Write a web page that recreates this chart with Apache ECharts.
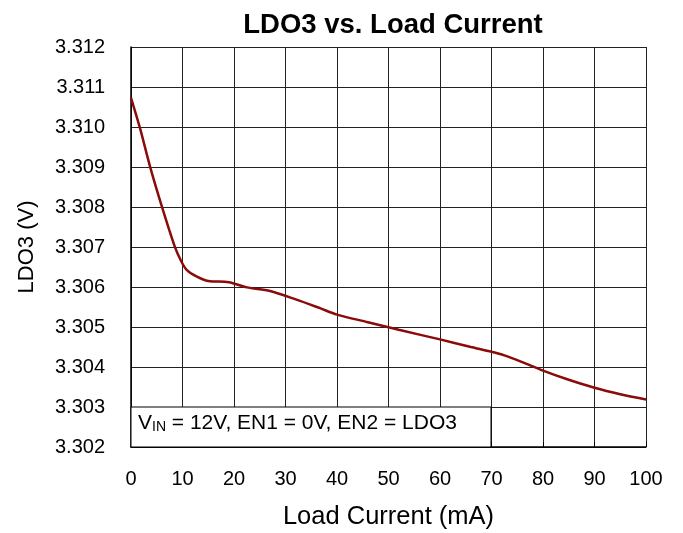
<!DOCTYPE html>
<html>
<head>
<meta charset="utf-8">
<script src="https://cdn.jsdelivr.net/npm/echarts@6/dist/echarts.min.js"></script>
<style>
  html, body { margin: 0; padding: 0; background: #fff; }
  #chart { width: 683px; height: 533px; }
</style>
</head>
<body>
<div id="chart"></div>
<script>
// load current (mA) and LDO3 output (V)
const loadCurrent = [0, 1.75, 3.7, 6, 8.5, 9.8, 10.8, 12.8, 15, 19, 22.5, 27, 32, 36.7, 40, 46, 52, 60, 66, 70, 72.5, 76, 80, 85, 90, 95, 100];
const ldo3 = [3.31073, 3.30997, 3.30901, 3.30801, 3.30701, 3.30663, 3.30643, 3.30626, 3.30615, 3.30612, 3.30599, 3.30590, 3.30569, 3.30547, 3.30531, 3.30512, 3.30493, 3.30469, 3.30450, 3.30438, 3.30429, 3.30412, 3.30391, 3.30368, 3.30348, 3.30332, 3.30319];

const chart = echarts.init(document.getElementById('chart'))
const font = '"Liberation Sans", Arial, sans-serif'

chart.setOption({
  animation: false,
  title: {
    text: 'LDO3 vs. Load Current',
    left: 388,
    textAlign: 'center',
    top: 6,
    textStyle: { fontFamily: font, fontSize: 27.5, fontWeight: 'bold', color: '#000' }
  },
  grid: { left: 131, right: 37, top: 47, bottom: 86, containLabel: false, outerBoundsMode: 'none' },
  xAxis: {
    type: 'value',
    min: 0, max: 100, interval: 10,
    name: 'Load Current (mA)',
    nameLocation: 'middle',
    nameGap: 57,
    nameTextStyle: { fontFamily: font, fontSize: 25.5, color: '#000' },
    axisLine: { show: true, onZero: false, lineStyle: { color: '#000', width: 1.5 } },
    axisTick: { show: true, inside: true, length: 5, lineStyle: { color: '#000' } },
    axisLabel: { fontFamily: font, fontSize: 20, color: '#000', margin: 22 },
    splitLine: { show: true, lineStyle: { color: '#222', width: 1 } }
  },
  yAxis: {
    type: 'value',
    min: 3.302, max: 3.312, interval: 0.001,
    name: 'LDO3 (V)',
    nameLocation: 'middle',
    nameGap: 93,
    nameTextStyle: { fontFamily: font, fontSize: 22, color: '#000' },
    axisLine: { show: true, lineStyle: { color: '#000', width: 1.5 } },
    axisTick: { show: false },
    axisLabel: {
      fontFamily: font, fontSize: 20, color: '#000', margin: 26,
      formatter: v => v.toFixed(3)
    },
    splitLine: { show: true, lineStyle: { color: '#222', width: 1 } }
  },
  series: [{
    type: 'line',
    data: loadCurrent.map((x, i) => [x, ldo3[i]]),
    smooth: 0.3,
    showSymbol: false,
    lineStyle: { color: '#8b0a0a', width: 2.5 }
  }],
  graphic: [{
    type: 'rect',
    shape: { x: 131, y: 407, width: 360, height: 40 },
    style: { fill: '#fff', stroke: '#000', lineWidth: 1 },
    z: 10
  }, {
    type: 'text',
    x: 138, y: 423,
    z: 11,
    style: {
      text: '{a|V}{b|IN}{a| = 12V, EN1 = 0V, EN2 = LDO3}',
      verticalAlign: 'middle',
      rich: {
        a: { fontFamily: font, fontSize: 21, color: '#000', verticalAlign: 'bottom', lineHeight: 22 },
        b: { fontFamily: font, fontSize: 14, color: '#000', verticalAlign: 'bottom', lineHeight: 18 }
      }
    }
  }]
})
</script>
</body>
</html>
